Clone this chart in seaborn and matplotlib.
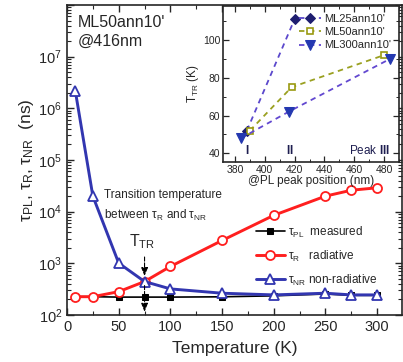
import matplotlib
matplotlib.use("Agg")
import matplotlib.pyplot as plt
from matplotlib.ticker import LogLocator, MultipleLocator, NullFormatter, FuncFormatter
import seaborn as sns
import pandas as pd
import numpy as np

# Lifetimes vs temperature (ns)
temperature = [8, 25, 50, 75, 100, 150, 200, 250, 275, 300]
tau_pl = [226, 226, 222, 222, 222, 225, 235, 255, 240, 240]
tau_r = [226, 226, 283, 444, 870, 2770, 8500, 20000, 26000, 29000]
tau_nr = [2.2e6, 2.0e4, 1010, 444, 320, 264, 245, 264, 245, 245]

# Transition temperature vs PL peak position (inset)
ml25_pos = [388, 420]
ml25_ttr = [52, 111]
ml50_pos = [390, 418, 480]
ml50_ttr = [52, 75, 92]
ml300_pos = [384, 416, 484]
ml300_ttr = [48, 62, 90]

peak_labels = ["I", "II", "Peak III"]

sns.set_style("ticks")
plt.rcParams.update({
    "font.family": ["Liberation Sans", "DejaVu Sans"],
    "mathtext.fontset": "custom",
    "mathtext.rm": "Liberation Sans",
    "mathtext.it": "Liberation Sans:italic",
    "mathtext.bf": "Liberation Sans:bold",
    "xtick.direction": "in",
    "ytick.direction": "in",
    "axes.linewidth": 1.2,
})

fig = plt.figure(figsize=(4.03, 3.62), dpi=100)
W, H = 403, 362
ax = fig.add_axes([67 / W, 47 / H, 335 / W, 310 / H])

df = pd.DataFrame({"T": temperature, "pl": tau_pl, "r": tau_r, "nr": tau_nr})

red = "#ff1f1f"
blue = "#3236b0"

sns.lineplot(data=df, x="T", y="pl", ax=ax, color="black", lw=1.2,
             marker="s", markersize=5, markeredgecolor="black",
             markerfacecolor="black", label=r"τ$_\mathregular{PL}$  measured")
sns.lineplot(data=df, x="T", y="r", ax=ax, color=red, lw=2.1,
             marker="o", markersize=6.5, markeredgecolor=red, markeredgewidth=1.3,
             markerfacecolor="white", label=r"τ$_\mathregular{R}$   radiative")
sns.lineplot(data=df, x="T", y="nr", ax=ax, color=blue, lw=2.1,
             marker="^", markersize=7, markeredgecolor=blue, markeredgewidth=1.3,
             markerfacecolor="white", label=r"τ$_\mathregular{NR}$ non-radiative")

ax.set_yscale("log")
ax.set_xlim(0, 324)
ax.set_ylim(1e2, 1e8)
ax.xaxis.set_major_locator(MultipleLocator(50))
ax.xaxis.set_minor_locator(MultipleLocator(25))
ax.yaxis.set_major_locator(LogLocator(base=10, numticks=10))
ax.yaxis.set_minor_locator(LogLocator(base=10, subs=range(2, 10), numticks=20))
ax.yaxis.set_minor_formatter(NullFormatter())
ax.yaxis.set_major_formatter(FuncFormatter(
    lambda v, p: "" if v >= 1e8 or v < 1e2 else r"$\mathregular{10^{%d}}$" % round(np.log10(v))))
ax.tick_params(which="both", top=True, right=True, labelsize=10.5)
ax.tick_params(which="major", length=5, width=1)
ax.tick_params(which="minor", length=3, width=0.8)
ax.set_xlabel("Temperature (K)", fontsize=12.5, labelpad=5)
ax.set_ylabel(r"τ$_\mathregular{PL}$, τ$_\mathregular{R}$, τ$_\mathregular{NR}$  (ns)",
              fontsize=12.5, labelpad=2)

ax.legend(loc="center left", bbox_to_anchor=(0.565, 0.19), frameon=False,
          fontsize=8.5, handlelength=2.4, labelspacing=0.75, handletextpad=0.3,
          borderaxespad=0, borderpad=0)

ax.text(10, 10 ** 7.48, "ML50ann10'\n@416nm", fontsize=11.5, va="center",
        ha="left", linespacing=1.25)
ax.text(36, 10 ** 4.33, "Transition temperature", fontsize=8.5, va="center")
ax.text(36, 10 ** 3.92, r"between τ$_\mathregular{R}$ and τ$_\mathregular{NR}$",
        fontsize=8.5, va="center")
ax.text(73, 10 ** 3.42, r"T$_\mathregular{TR}$", fontsize=11.5, va="center",
        ha="center")
ax.annotate("", xy=(75, 500), xytext=(75, 1500),
            arrowprops=dict(arrowstyle="-|>,head_length=0.5,head_width=0.2",
                            linestyle="--", color="black", lw=0.8))
ax.annotate("", xy=(75, 102), xytext=(75, 420),
            arrowprops=dict(arrowstyle="-|>,head_length=0.5,head_width=0.2",
                            linestyle="--", color="black", lw=0.8))

# Inset: transition temperature vs peak position
ins = fig.add_axes([223 / W, (H - 162) / H, 176 / W, 156 / H])
ins.set_facecolor("white")
line25 = "#5b48cc"
line50 = "#9aa020"
line300 = "#6248d0"
sns.lineplot(x=ml25_pos, y=ml25_ttr, ax=ins, color=line25, lw=1.3, ls=(0, (3, 2.5)),
             marker="D", markersize=5, markerfacecolor="#1e1e70",
             markeredgecolor="#1e1e70", label="ML25ann10'")
sns.lineplot(x=ml50_pos, y=ml50_ttr, ax=ins, color=line50, lw=1.3, ls=(0, (3, 2.5)),
             marker="s", markersize=5, markerfacecolor="white",
             markeredgecolor="#9a9a10", markeredgewidth=1.2, label="ML50ann10'")
sns.lineplot(x=ml300_pos, y=ml300_ttr, ax=ins, color=line300, lw=1.3, ls=(0, (3, 2.5)),
             marker="v", markersize=7, markerfacecolor="#2438b0",
             markeredgecolor="#2438b0", label="ML300ann10'")
ins.set_xlim(372, 490)
ins.set_ylim(35.4, 118)
ins.xaxis.set_major_locator(MultipleLocator(20))
ins.xaxis.set_minor_locator(MultipleLocator(10))
ins.yaxis.set_major_locator(MultipleLocator(20))
ins.yaxis.set_minor_locator(MultipleLocator(10))
ins.tick_params(which="both", top=True, right=True, labelsize=7.5, pad=2)
ins.tick_params(which="major", length=4, width=0.9)
ins.tick_params(which="minor", length=2, width=0.7)
ins.set_xlabel("@PL peak position (nm)", fontsize=8.5, labelpad=0)
ins.set_ylabel(r"T$_\mathregular{TR}$ (K)", fontsize=8.5, labelpad=1)
ins.legend(loc="upper right", frameon=False, fontsize=8, handlelength=2,
           labelspacing=0.3, handletextpad=0.3, borderaxespad=0.3)
peak_texts = [r"$\mathbf{I}$", r"$\mathbf{II}$", r"Peak $\mathbf{III}$"]
for xpos, lab, ha in zip([388, 416.5, 484], peak_texts, ["center", "center", "right"]):
    ins.text(xpos, 41.4, lab, fontsize=8.5, ha=ha, va="center", color="#1e1e50")

fig.savefig("out.png", dpi=100)
